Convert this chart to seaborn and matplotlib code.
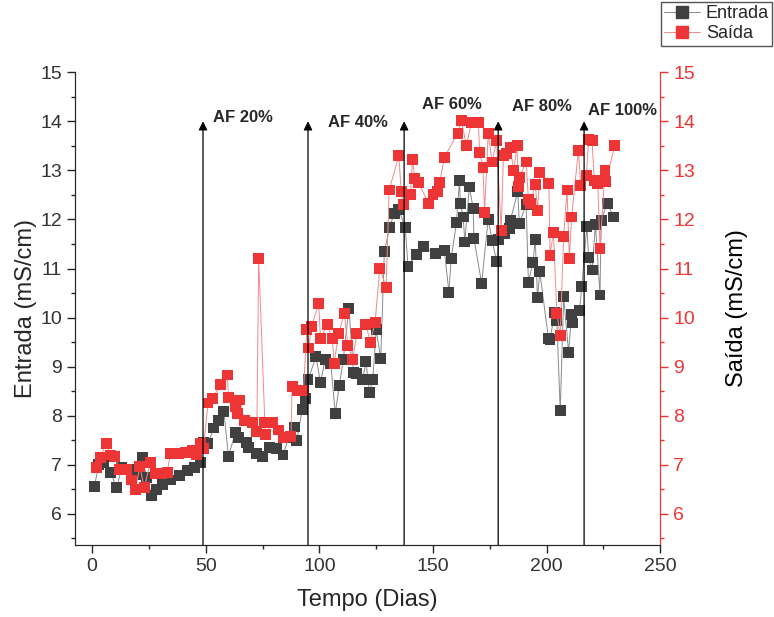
import matplotlib.pyplot as plt
import matplotlib.lines as mlines
from matplotlib.ticker import MultipleLocator
import numpy as np
import pandas as pd
import seaborn as sb

# dados
dias_entrada = [0.9, 3, 5, 8, 10.9, 13, 16, 19, 22, 24, 26.3, 28.5, 31, 34.5, 38.5, 42, 45, 47.5,
                49, 51, 53.5, 55.5, 58, 60, 63, 64.5, 68, 69, 72.5, 75, 78, 81, 84, 86.5, 89, 90,
                92.5, 94, 95, 98.5, 100.5, 102.5, 105, 107, 108.8, 110.5, 113, 115, 116.5, 119,
                120.5, 122, 123.5, 125, 127, 128.6, 130.8, 133, 135, 137.8, 139, 142.6, 146, 151,
                155, 157, 158, 160.3, 161.7, 162, 163.3, 164, 166, 167.7, 168, 171.4, 174.3, 176,
                178, 179, 181.7, 183.5, 184, 187.3, 188, 191, 192, 194, 195, 196, 197, 200.8,
                201.5, 203.6, 204.5, 206, 207.5, 209.7, 211, 211.5, 214.5, 215.5, 217.7, 218.5,
                220, 221.5, 223.5, 224, 226.6, 229.6]
entrada = [6.55, 7.0, 7.05, 6.85, 6.53, 6.95, 6.9, 6.8, 7.14, 6.75, 6.37, 6.49, 6.59, 6.69, 6.79,
           6.88, 6.95, 7.05, 7.45, 7.44, 7.75, 7.9, 8.08, 7.17, 7.65, 7.55, 7.46, 7.36, 7.24, 7.16,
           7.36, 7.34, 7.2, 7.55, 7.77, 7.5, 8.12, 8.36, 8.73, 9.2, 8.67, 9.14, 9.07, 8.05, 8.62,
           9.14, 10.19, 8.89, 8.87, 8.73, 9.1, 8.48, 8.73, 9.75, 9.17, 11.34, 11.83, 12.13, 12.2,
           11.83, 11.05, 11.29, 11.44, 11.3, 11.37, 10.52, 11.2, 11.93, 12.8, 12.33, 12.05, 11.54,
           12.66, 12.23, 11.62, 10.7, 12.0, 11.58, 11.14, 11.6, 11.72, 11.82, 11.97, 12.56, 11.92,
           12.3, 10.72, 11.13, 11.6, 10.4, 10.93, 9.58, 9.55, 10.11, 9.95, 8.1, 10.42, 9.29,
           10.07, 9.89, 10.15, 10.64, 11.85, 11.23, 10.97, 11.9, 10.46, 11.97, 12.33, 12.05]

dias_saida = [2, 3.5, 6.2, 8, 10, 12, 15, 17.5, 19, 21, 23, 25.5, 28, 30.5, 33, 34.5, 38, 41, 44,
              46, 47.7, 49, 51, 53, 56.5, 59.5, 60, 63, 64, 65, 67, 70.5, 72.5, 73.3, 76, 76.2,
              79.5, 82, 84, 87.5, 88, 90.5, 93, 94.5, 95.3, 96.5, 99.7, 100.5, 103.5, 105.7,
              106.5, 108.5, 111, 112.5, 114.7, 116.5, 120.5, 122.5, 124.5, 126.6, 129.4, 130.7,
              135, 136, 137, 140, 141, 142, 143.5, 148, 150, 152, 153, 155, 161, 162.5, 164.7,
              167, 170, 170.5, 172, 172.7, 174.3, 176, 178, 180, 181, 182.4, 184, 185.5, 187,
              187.5, 188, 191, 192, 193, 195, 196, 197, 201, 201.5, 203, 204.5, 206, 207.5, 209,
              210, 211, 214, 215, 217.5, 218.5, 220, 221, 222.5, 223.5, 225.7, 226, 230]
saida = [6.95, 7.14, 7.44, 7.2, 7.16, 6.9, 6.9, 6.69, 6.49, 6.96, 6.53, 7.04, 6.83, 6.83, 6.85,
         7.24, 7.24, 7.26, 7.3, 7.2, 7.44, 7.34, 8.26, 8.36, 8.63, 8.83, 8.38, 8.18, 8.05, 8.32,
         7.91, 7.87, 7.67, 11.2, 7.87, 7.61, 7.87, 7.71, 7.55, 7.57, 8.59, 8.52, 8.52, 9.75, 9.38,
         9.81, 10.29, 9.58, 9.85, 9.58, 9.07, 9.68, 10.09, 9.44, 9.14, 9.68, 9.85, 9.5, 9.9, 11.0,
         10.62, 12.6, 13.3, 12.56, 12.3, 12.5, 13.22, 12.84, 12.76, 12.33, 12.5, 12.56, 12.76,
         13.27, 13.76, 14.02, 13.5, 13.98, 13.98, 13.37, 13.05, 12.15, 13.75, 13.17, 13.6, 11.77,
         13.3, 13.35, 13.47, 13.0, 13.5, 12.67, 12.85, 13.17, 12.4, 12.33, 12.72, 12.19, 12.96,
         12.74, 11.27, 11.74, 10.09, 9.64, 11.66, 12.6, 11.2, 12.05, 13.41, 12.7, 12.9, 13.62,
         13.6, 12.8, 12.74, 11.4, 13.0, 12.77, 13.5]

fases = ["AF 20%", "AF 40%", "AF 60%", "AF 80%", "AF 100%"]
dias_fases = [48.8, 95, 137.3, 178.7, 216.5]

df_e = pd.DataFrame({"dia": dias_entrada, "valor": entrada})
df_s = pd.DataFrame({"dia": dias_saida, "valor": saida})

cor_e = "#404040"
cor_s = "#ee3535"

sb.set_style("ticks")
plt.rcParams['font.family'] = ['Liberation Sans', 'DejaVu Sans']

fig = plt.figure(figsize=(7.74, 6.17), dpi=100)
ax = fig.add_axes([0.097, 0.117, 0.756, 0.766])

# linhas + marcadores
sb.lineplot(data=df_e, x="dia", y="valor", sort=False, estimator=None, color="#8a8a8a",
            linewidth=0.7, ax=ax, zorder=2)
sb.scatterplot(data=df_e, x="dia", y="valor", marker="s", s=62, color=cor_e,
               edgecolor="none", ax=ax, zorder=3)
sb.lineplot(data=df_s, x="dia", y="valor", sort=False, estimator=None, color="#f08a8a",
            linewidth=0.7, ax=ax, zorder=4)
sb.scatterplot(data=df_s, x="dia", y="valor", marker="s", s=62, color=cor_s,
               edgecolor="none", ax=ax, zorder=5)

ax.set_xlim(-7.5, 250)
ax.set_ylim(5.37, 15)

# setas das fases
for nome, d in zip(fases, dias_fases):
    ax.annotate("", xy=(d, 14.0), xytext=(d, 5.37),
                arrowprops=dict(arrowstyle="-|>", color="black", lw=0.9,
                                mutation_scale=13, shrinkA=0, shrinkB=0), zorder=6)
pos_txt = [(66.3, 14.08), (117, 13.98), (158.4, 14.35), (198, 14.3), (233.3, 14.22)]
for nome, (tx, ty) in zip(fases, pos_txt):
    ax.text(tx, ty, nome, ha="center", va="center", fontsize=12, fontweight="bold", zorder=7)

# eixo esquerdo
ax.xaxis.set_major_locator(MultipleLocator(50))
ax.xaxis.set_minor_locator(MultipleLocator(25))
ax.yaxis.set_major_locator(MultipleLocator(1))
ax.yaxis.set_minor_locator(MultipleLocator(0.5))
ax.tick_params(which="major", direction="out", length=6, width=1, labelsize=14,
               labelcolor="#333333")
ax.tick_params(which="minor", direction="out", length=3, width=1)
ax.set_xlabel("Tempo (Dias)", fontsize=17, labelpad=10)
ax.set_ylabel("Entrada (mS/cm)", fontsize=17, labelpad=2)
ax.spines["top"].set_visible(False)

# eixo direito (Saida)
ax2 = ax.twinx()
ax2.set_ylim(5.37, 15)
ax2.yaxis.set_major_locator(MultipleLocator(1))
ax2.yaxis.set_minor_locator(MultipleLocator(0.5))
ax2.tick_params(which="major", direction="out", length=6, width=1, labelsize=14,
                colors=cor_s)
ax2.tick_params(which="minor", direction="out", length=3, width=1, colors=cor_s)
ax2.spines["right"].set_color(cor_s)
ax2.spines["top"].set_visible(False)
ax2.set_ylabel("Saída (mS/cm)", fontsize=17, labelpad=22, color="black")

# legenda
h_e = mlines.Line2D([], [], color="#8a8a8a", lw=0.7, marker="s", markersize=8,
                    markerfacecolor=cor_e, markeredgecolor=cor_e)
h_s = mlines.Line2D([], [], color="#f08a8a", lw=0.7, marker="s", markersize=8,
                    markerfacecolor=cor_s, markeredgecolor=cor_s)
fig.legend([h_e, h_s], ["Entrada", "Saída"], loc="upper right",
           bbox_to_anchor=(0.998, 0.997), fontsize=13, frameon=True, fancybox=False,
           edgecolor="#555555", framealpha=1, handlelength=2.0, borderpad=0.2,
           labelspacing=0.15, handletextpad=0.3, borderaxespad=0)

plt.savefig("out.png", dpi=100)
